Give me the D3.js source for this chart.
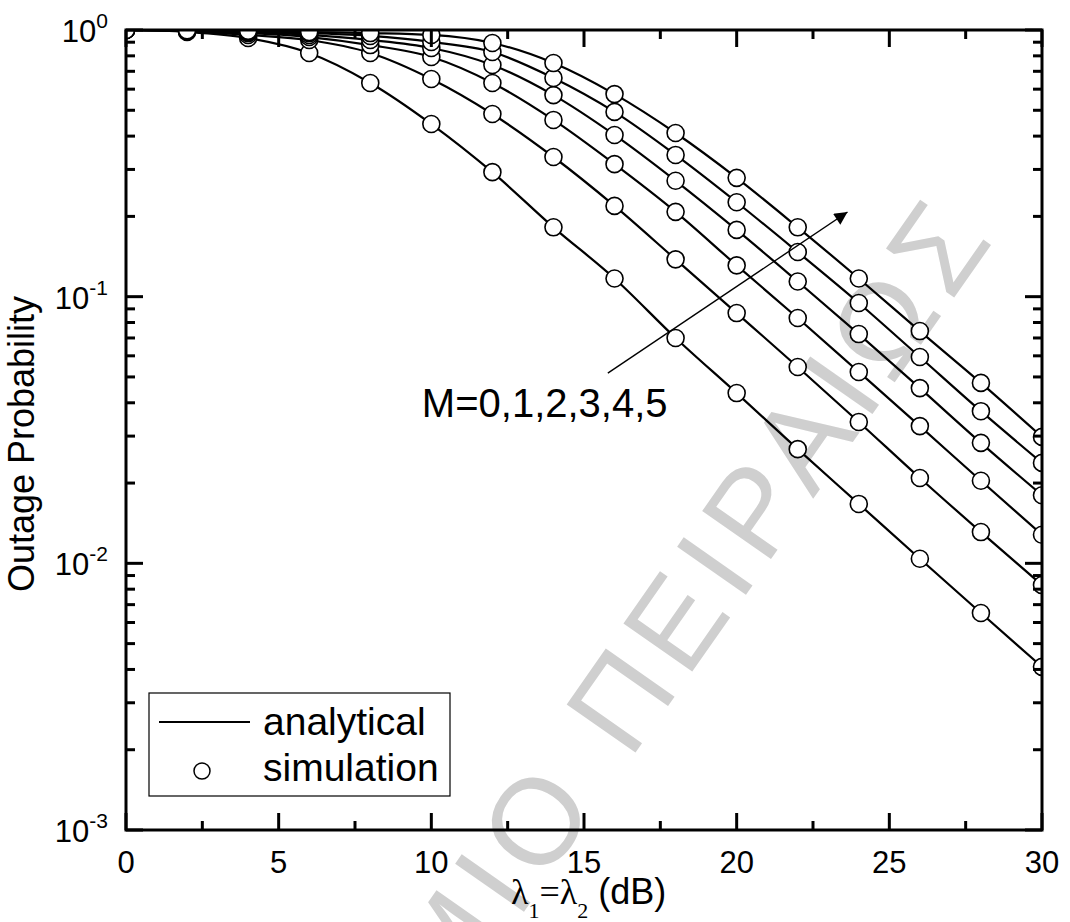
<!DOCTYPE html>
<html>
<head>
<meta charset="utf-8">
<script src="https://cdn.jsdelivr.net/npm/d3@7"></script>
<style>
  body { margin: 0; background: white; }
  text { font-family: "Liberation Sans", Arial, sans-serif; }
</style>
</head>
<body>
<svg id="outage"></svg>
<script>
// simulation points, SNR in dB
const snrDb = [0, 2, 4, 6, 8, 10, 12, 14, 16, 18, 20, 22, 24, 26, 28, 30];

// outage probability for each M
const outageM0 = [1, 0.983, 0.933, 0.820, 0.633, 0.444, 0.293, 0.182, 0.117, 0.0700, 0.0435, 0.0268, 0.0167, 0.0104, 0.00651, 0.00409];
const outageM1 = [1, 0.991, 0.958, 0.917, 0.820, 0.655, 0.484, 0.334, 0.219, 0.138, 0.0868, 0.0545, 0.0339, 0.0209, 0.0131, 0.00829];
const outageM2 = [1, 0.995, 0.974, 0.941, 0.878, 0.792, 0.633, 0.460, 0.314, 0.208, 0.131, 0.0832, 0.0522, 0.0327, 0.0204, 0.0128];
const outageM3 = [1, 0.996, 0.983, 0.958, 0.917, 0.856, 0.739, 0.570, 0.404, 0.272, 0.178, 0.114, 0.0724, 0.0454, 0.0283, 0.0180];
const outageM4 = [1, 0.997, 0.990, 0.974, 0.950, 0.902, 0.827, 0.661, 0.493, 0.340, 0.226, 0.147, 0.0947, 0.0594, 0.0372, 0.0238];
const outageM5 = [1, 0.998, 0.993, 0.983, 0.974, 0.958, 0.894, 0.752, 0.575, 0.411, 0.279, 0.182, 0.117, 0.0743, 0.0475, 0.0298];

const xTicks = [0, 5, 10, 15, 20, 25, 30];
const yExponents = [0, -1, -2, -3];

// arrow annotation, in data units: [x, y] start and tip
const arrowStart = [15.78, 0.0517];
const arrowTip = [23.63, 0.2077];
const arrowLabel = "M=0,1,2,3,4,5";
const arrowLabelPos = [9.69, 0.0354];

const dimensions = {
    width: 916,
    height: 800,
    margin: { top: 30, right: 28, bottom: 92, left: 126 }
};

const svgRoot = d3.select("#outage")
    .attr("width", 1070)
    .attr("height", 922)
    .style("background-color", "white");

// watermark in the background
svgRoot.append("text")
    .attr("transform", "translate(1000,232) rotate(-55)")
    .attr("text-anchor", "end")
    .style("font-size", "122px")
    .style("letter-spacing", "11px")
    .attr("fill", "#cfcfcf")
    .text("ΠΑΝΕΠΙΣΤΗΜΙΟ ΠΕΙΡΑΙΩΣ");

const svg = svgRoot.append("g")
    .attr("transform", `translate(${dimensions.margin.left},${dimensions.margin.top})`);

const xScale = d3.scaleLinear()
    .domain([0, 30])
    .range([0, dimensions.width]);

const yScale = d3.scaleLog()
    .domain([1e-3, 1])
    .range([dimensions.height, 0]);

svg.append("clipPath")
    .attr("id", "plot-clip")
    .append("rect")
    .attr("width", dimensions.width)
    .attr("height", dimensions.height);

const series = [outageM0, outageM1, outageM2, outageM3, outageM4, outageM5];

const line = d3.line()
    .x(d => xScale(d[0]))
    .y(d => yScale(d[1]))
    .curve(d3.curveMonotoneX);

const plot = svg.append("g").attr("clip-path", "url(#plot-clip)");

plot.selectAll(".analytical")
    .data(series)
    .enter().append("path")
    .attr("class", "analytical")
    .attr("d", s => line(snrDb.map((x, i) => [x, s[i]])))
    .attr("fill", "none")
    .attr("stroke", "black")
    .attr("stroke-width", 2.2);

plot.selectAll(".sim")
    .data(series)
    .enter().append("g")
    .attr("class", "sim")
    .selectAll("circle")
    .data(s => snrDb.map((x, i) => [x, s[i]]))
    .enter().append("circle")
    .attr("cx", d => xScale(d[0]))
    .attr("cy", d => yScale(d[1]))
    .attr("r", 8.5)
    .attr("fill", "white")
    .attr("stroke", "black")
    .attr("stroke-width", 1.6);

// ticks, pointing inward on all four sides
const xMinor = d3.range(2.5, 30, 5);
const yMinor = [];
yExponents.slice(1).forEach(e => {
    for (let k = 2; k <= 9; k++) yMinor.push(k * Math.pow(10, e));
});

const tickGroup = svg.append("g")
    .attr("stroke", "black")
    .attr("stroke-width", 3);

[[xTicks, 17], [xMinor, 9]].forEach(([vals, len]) => {
    vals.forEach(v => {
        tickGroup.append("line")
            .attr("x1", xScale(v)).attr("x2", xScale(v))
            .attr("y1", dimensions.height).attr("y2", dimensions.height - len);
        tickGroup.append("line")
            .attr("x1", xScale(v)).attr("x2", xScale(v))
            .attr("y1", 0).attr("y2", len);
    });
});

[[yExponents.map(e => Math.pow(10, e)), 17], [yMinor, 9]].forEach(([vals, len]) => {
    vals.forEach(v => {
        tickGroup.append("line")
            .attr("x1", 0).attr("x2", len)
            .attr("y1", yScale(v)).attr("y2", yScale(v));
        tickGroup.append("line")
            .attr("x1", dimensions.width).attr("x2", dimensions.width - len)
            .attr("y1", yScale(v)).attr("y2", yScale(v));
    });
});

svg.append("rect")
    .attr("width", dimensions.width)
    .attr("height", dimensions.height)
    .attr("fill", "none")
    .attr("stroke", "black")
    .attr("stroke-width", 3);

// tick labels
svg.selectAll(".x-tick")
    .data(xTicks)
    .enter().append("text")
    .attr("class", "x-tick")
    .attr("x", d => xScale(d))
    .attr("y", dimensions.height + 43)
    .attr("text-anchor", "middle")
    .style("font-size", "31px")
    .text(d => d);

const yLabels = svg.selectAll(".y-tick")
    .data(yExponents)
    .enter().append("text")
    .attr("class", "y-tick")
    .attr("x", -18)
    .attr("y", d => yScale(Math.pow(10, d)) + 12)
    .attr("text-anchor", "end")
    .style("font-size", "31px");

yLabels.append("tspan").text("10");
yLabels.append("tspan")
    .attr("dy", -14)
    .style("font-size", "21px")
    .text(d => d === 0 ? "0" : "-" + Math.abs(d));

// axis titles
svgRoot.append("text")
    .attr("transform", "translate(34,444) rotate(-90)")
    .attr("text-anchor", "middle")
    .style("font-size", "36px")
    .text("Outage Probability");

const xTitle = svgRoot.append("text")
    .attr("x", 511)
    .attr("y", 904)
    .style("font-size", "36px");
const serif = "'Liberation Serif', 'Times New Roman', serif";
xTitle.append("tspan").style("font-family", serif).text("λ");
xTitle.append("tspan").style("font-family", serif).style("font-size", "22px").attr("dy", 14).text("1");
xTitle.append("tspan").style("font-family", serif).attr("dy", -14).text("=λ");
xTitle.append("tspan").style("font-family", serif).style("font-size", "22px").attr("dy", 14).text("2");
xTitle.append("tspan").attr("dy", -14).text(" (dB)");

// arrow annotation
svg.append("defs").append("marker")
    .attr("id", "arrowhead")
    .attr("viewBox", "0 0 10 10")
    .attr("refX", 10)
    .attr("refY", 5)
    .attr("markerUnits", "userSpaceOnUse")
    .attr("markerWidth", 22)
    .attr("markerHeight", 13)
    .attr("orient", "auto")
    .append("path")
    .attr("d", "M0,0L10,5L0,10Z")
    .attr("fill", "black");

svg.append("line")
    .attr("x1", xScale(arrowStart[0]))
    .attr("y1", yScale(arrowStart[1]))
    .attr("x2", xScale(arrowTip[0]))
    .attr("y2", yScale(arrowTip[1]))
    .attr("stroke", "black")
    .attr("stroke-width", 1.4)
    .attr("marker-end", "url(#arrowhead)");

svg.append("text")
    .attr("x", xScale(arrowLabelPos[0]))
    .attr("y", yScale(arrowLabelPos[1]))
    .style("font-size", "40px")
    .text(arrowLabel);

// legend
const legend = svgRoot.append("g").attr("class", "legend");

legend.append("rect")
    .attr("x", 149)
    .attr("y", 693)
    .attr("width", 301)
    .attr("height", 103)
    .attr("fill", "white")
    .attr("stroke", "black")
    .attr("stroke-width", 1.2);

legend.append("line")
    .attr("x1", 159).attr("x2", 250)
    .attr("y1", 722).attr("y2", 722)
    .attr("stroke", "black")
    .attr("stroke-width", 2);

legend.append("circle")
    .attr("cx", 202)
    .attr("cy", 771)
    .attr("r", 8)
    .attr("fill", "white")
    .attr("stroke", "black")
    .attr("stroke-width", 1.5);

legend.append("text")
    .attr("x", 263).attr("y", 735)
    .style("font-size", "39px")
    .text("analytical");

legend.append("text")
    .attr("x", 263).attr("y", 781)
    .style("font-size", "39px")
    .text("simulation");
</script>
</body>
</html>
